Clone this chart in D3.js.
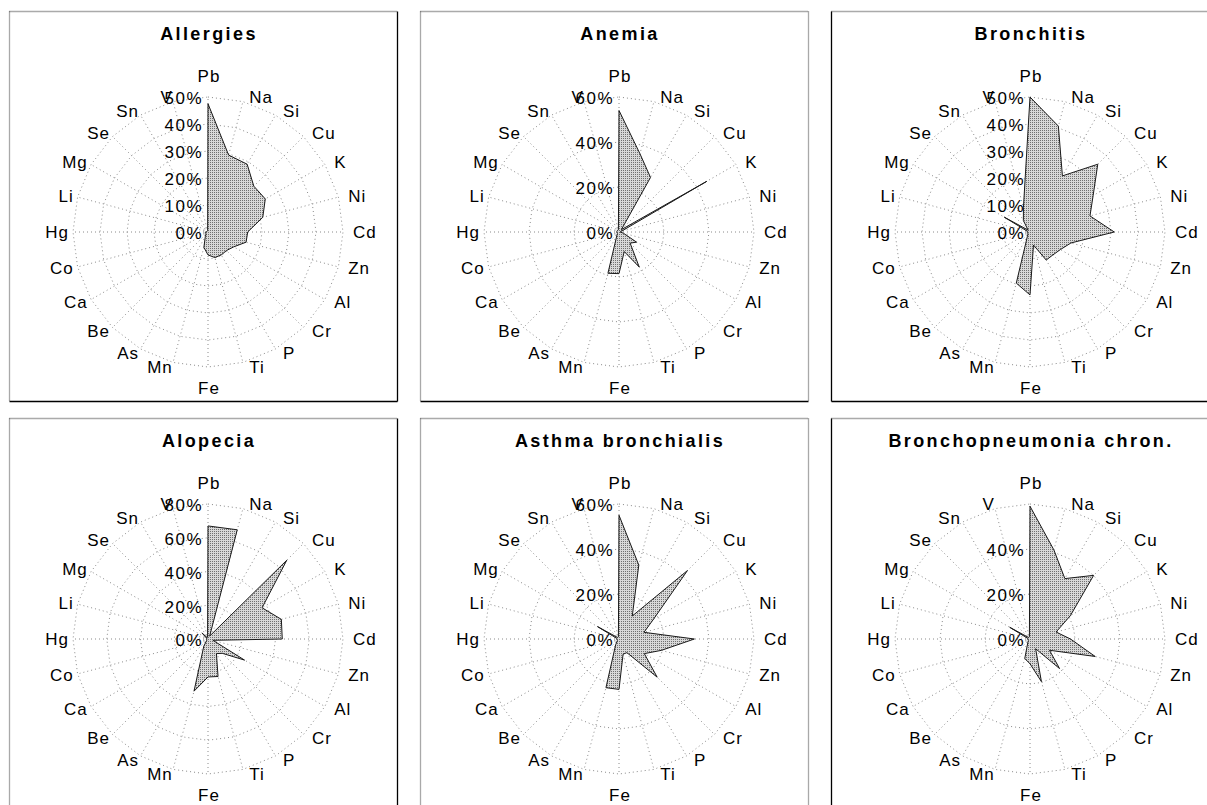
<!DOCTYPE html>
<html>
<head>
<meta charset="utf-8">
<script src="https://cdn.jsdelivr.net/npm/d3@7/dist/d3.min.js"></script>
<style>
  html, body { margin: 0; padding: 0; background: #fff; }
  svg { display: block; }
  text { font-family: "Liberation Sans", Arial, sans-serif; fill: #000; }
</style>
</head>
<body>
<svg id="chart" width="1207" height="805"></svg>
<script>
// Elements measured, clockwise from the top
const elements = ["Pb","Na","Si","Cu","K","Ni","Cd","Zn","Al","Cr","P","Ti",
                  "Fe","Mn","As","Be","Ca","Co","Hg","Li","Mg","Se","Sn","V"];

const titles = ["Allergies","Anemia","Bronchitis",
                "Alopecia","Asthma bronchialis","Bronchopneumonia chron."];

// Share of cases (%) per element
const allergies = [47.5,29.5,29,24,24.5,21,14.7,14.6,11,9.7,9.8,9.8,8.5,5.9,2,1,1,1,1,0.5,0.5,0.5,0.5,0.5];
const anemia    = [54,36,28,1.5,45,1,0.5,2,9,7,18,9,18.5,19,2,1,1,1,1,1,1,1,1,1];
const bronchitis= [50,40.6,24,35.5,27,23,31.2,15.7,13,12,12,5,23.3,19.6,2,1,1,1,1,1,11,1,4.9,9.4];
const alopecia  = [67,67,2,66,37,45,44,3,25,12,10,23,22.5,32,5,1,1,1,0.5,1,1,5,1,1];
const asthma    = [55,34,11.8,43,17.8,11.5,33.5,19.5,13,24,7,7,22.4,22.4,3,1,1,1,1,1,11,1,1,1];
const bronchopn = [59,41,31,40,20.7,12,18,30,10,18.6,5,19.6,11,9,2,1,1,1,1,1,10.4,1,1,1];

const seriesList = [allergies, anemia, bronchitis, alopecia, asthma, bronchopn];

// Radial axis maximum and gridline step (%) per panel
const axisMax  = [50, 60, 50, 80, 60, 60];
const axisStep = [10, 20, 10, 20, 20, 20];
// Tick values that carry a label
const tickLabels = [
  [0,10,20,30,40,50],
  [0,20,40,60],
  [0,10,20,30,40,50],
  [0,20,40,60,80],
  [0,20,40,60],
  [0,20,40]
];

const svg = d3.select("#chart");

// halftone-style grey fill
const defs = svg.append("defs");
const pat = defs.append("pattern")
  .attr("id", "halftone").attr("patternUnits", "userSpaceOnUse")
  .attr("width", 2).attr("height", 2);
pat.append("rect").attr("width", 2).attr("height", 2).attr("fill", "#d8d8d8");
pat.append("rect").attr("width", 1).attr("height", 1).attr("fill", "#707070");

const colX = [9, 420, 831];
const rowY = [11, 418];
const panelW = 388, panelH = 390;
const center = [199, 221];
const R = 135;
const n = elements.length;
const angle = i => i * 2 * Math.PI / n;

seriesList.forEach((values, k) => {
  const col = k % 3, row = Math.floor(k / 3);
  const g = svg.append("g").attr("transform", `translate(${colX[col]},${rowY[row]})`);

  // panel frame
  const solid = {stroke: "#000", dash: null};
  const dotted = {stroke: "#555", dash: "1,1"};
  const sides = [
    {x1: 0, y1: 0, x2: panelW, y2: 0, s: dotted},                        // top
    {x1: 0, y1: 0, x2: 0, y2: panelH, s: col === 2 ? solid : dotted},     // left
    {x1: panelW, y1: 0, x2: panelW, y2: panelH, s: col === 1 ? dotted : solid}, // right
    {x1: 0, y1: panelH, x2: panelW, y2: panelH, s: solid}                 // bottom
  ];
  g.selectAll("line.frame").data(sides).join("line")
    .attr("class", "frame")
    .attr("x1", d => d.x1 + 0.5).attr("y1", d => d.y1 + 0.5)
    .attr("x2", d => d.x2 + 0.5).attr("y2", d => d.y2 + 0.5)
    .attr("stroke", d => d.s.stroke).attr("stroke-width", 1.3)
    .attr("stroke-dasharray", d => d.s.dash);

  g.append("text")
    .attr("x", center[0] + 1).attr("y", 29)
    .attr("text-anchor", "middle")
    .style("font-size", "18px").style("font-weight", "bold")
    .style("letter-spacing", "2.4px")
    .text(titles[k]);

  const r = d3.scaleLinear().domain([0, axisMax[k]]).range([0, R]);
  const plot = g.append("g").attr("transform", `translate(${center[0]},${center[1]})`);

  // gridline rings
  const ringVals = d3.range(axisStep[k], axisMax[k] + 0.001, axisStep[k]);
  const ringLine = d3.lineRadial().angle((d, i) => angle(i)).curve(d3.curveLinearClosed);
  plot.selectAll("path.ring").data(ringVals).join("path")
    .attr("class", "ring")
    .attr("d", v => ringLine.radius(r(v))(elements))
    .attr("fill", "none").attr("stroke", "#8a8a8a").attr("stroke-width", 1)
    .attr("stroke-dasharray", "1,3");

  // spokes
  plot.selectAll("line.spoke").data(elements).join("line")
    .attr("class", "spoke")
    .attr("x1", 0).attr("y1", 0)
    .attr("x2", (d, i) => R * Math.sin(angle(i)))
    .attr("y2", (d, i) => -R * Math.cos(angle(i)))
    .attr("stroke", "#8a8a8a").attr("stroke-width", 1)
    .attr("stroke-dasharray", "1,3");

  // data polygon
  const area = d3.lineRadial()
    .angle((d, i) => angle(i))
    .radius(d => r(d))
    .curve(d3.curveLinearClosed);
  plot.append("path")
    .attr("d", area(values))
    .attr("fill", "url(#halftone)")
    .attr("stroke", "#1a1a1a").attr("stroke-width", 1);

  // tick labels along the Pb axis
  plot.selectAll("text.tick").data(tickLabels[k]).join("text")
    .attr("class", "tick")
    .attr("x", -5).attr("y", v => -r(v) + 1.5)
    .attr("dy", "0.35em")
    .attr("text-anchor", "end")
    .style("font-size", "17px").style("letter-spacing", "1.5px")
    .text(v => v + "%");

  // element labels
  plot.selectAll("text.cat").data(elements).join("text")
    .attr("class", "cat")
    .each(function(d, i) {
      const a = angle(i), s = Math.sin(a), c = Math.cos(a);
      const ax = (R + 5) * s, ay = -(R + 5) * c;
      const t = d3.select(this).style("font-size", "17px").style("letter-spacing", "1px");
      if (Math.abs(s) < 1e-6) {
        t.attr("text-anchor", "middle").attr("x", 1)
         .attr("y", c > 0 ? -R - 15 : R + 27);
      } else if (s > 0) {
        t.attr("text-anchor", "start").attr("x", ax + 5).attr("y", ay).attr("dy", "0.35em");
      } else {
        t.attr("text-anchor", "end").attr("x", ax + 1).attr("y", ay).attr("dy", "0.35em");
      }
    })
    .text(d => d);
});
</script>
</body>
</html>
